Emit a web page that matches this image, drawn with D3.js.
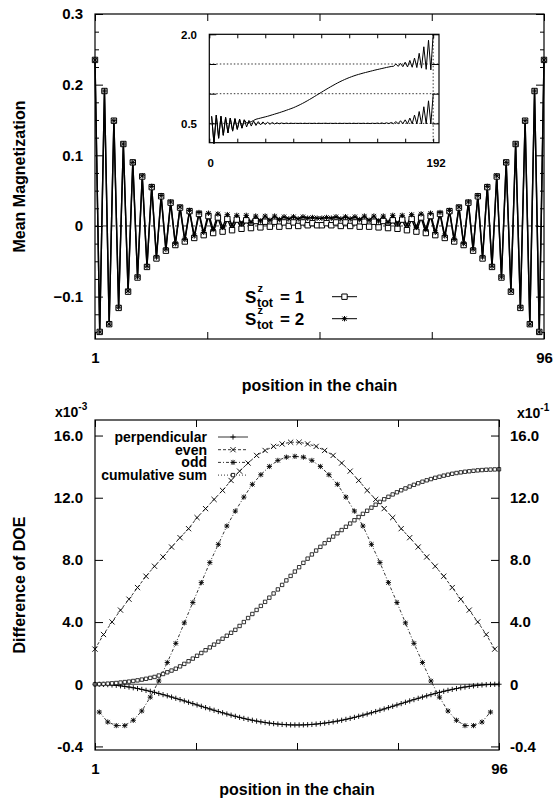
<!DOCTYPE html>
<html><head><meta charset="utf-8">
<script src="https://cdn.jsdelivr.net/npm/d3@7"></script>
<style>
body{margin:0;background:#fff}
text{font-family:"Liberation Sans",Arial,Helvetica,sans-serif;font-weight:bold;fill:#000}
</style>
</head><body>
<svg id="c" width="557" height="801" xmlns="http://www.w3.org/2000/svg"></svg>
<script>
// ---------------- DATA ----------------
// Top panel: mean magnetization per site (1..96)
const topSites = d3.range(1, 97);
const magSz1 = [0.235,-0.150,0.191,-0.139,0.149,-0.116,0.116,-0.093,0.090,-0.073,0.070,-0.058,0.055,-0.046,0.042,-0.035,0.033,-0.027,0.026,-0.022,
0.021,-0.017,0.017,-0.013,0.014,-0.010,0.012,-0.008,0.010,-0.006,0.009,-0.004,0.008,-0.003,0.007,-0.002,0.006,-0.001,0.006,-0.001,
0.005,0.000,0.005,0.000,0.005,0.001,0.004,0.001,
0.001,0.004,0.001,0.005,0.000,0.005,0.000,0.005,
-0.001,0.006,-0.001,0.006,-0.002,0.007,-0.003,0.008,-0.004,0.009,-0.006,0.010,-0.008,0.012,-0.010,0.014,-0.013,0.017,-0.017,0.021,
-0.022,0.026,-0.027,0.033,-0.035,0.042,-0.046,0.055,-0.058,0.070,-0.073,0.090,-0.093,0.116,-0.116,0.149,-0.139,0.191,-0.150,0.235];
const magSz2 = [0.235,-0.150,0.191,-0.139,0.149,-0.115,0.116,-0.092,0.090,-0.072,0.071,-0.057,0.056,-0.044,0.043,-0.033,0.034,-0.025,0.027,-0.019,
0.022,-0.014,0.019,-0.009,0.018,-0.005,0.017,-0.002,0.016,0.001,0.015,0.003,0.015,0.005,0.014,0.007,0.014,0.008,0.014,0.009,
0.013,0.010,0.013,0.010,0.013,0.011,0.012,0.011,
0.011,0.012,0.011,0.013,0.010,0.013,0.010,0.013,
0.009,0.014,0.008,0.014,0.007,0.014,0.005,0.015,0.003,0.015,0.001,0.016,-0.002,0.017,-0.005,0.018,-0.009,0.019,-0.014,0.022,
-0.019,0.027,-0.025,0.034,-0.033,0.043,-0.044,0.056,-0.057,0.071,-0.072,0.090,-0.092,0.116,-0.115,0.149,-0.139,0.191,-0.150,0.235];
const topYTicks = [-0.1, 0, 0.1, 0.2, 0.3];
const topXLabels = ["1", "96"];

// Inset: positions 2..192 (step 2)
const insetSites = d3.range(2, 193, 2);
const insetLower = [0.62,0.16,0.64,0.25,0.62,0.30,0.60,0.34,0.59,0.37,
0.58,0.40,0.57,0.42,0.56,0.44,0.55,0.455,0.54,0.465,
0.53,0.475,0.525,0.48,0.52,0.485,0.515,0.49,0.51,0.493,
0.507,0.495,0.505,0.497,0.503,0.498,0.502,0.498,0.502,0.498,
0.502,0.498,0.502,0.498,0.502,0.498,0.502,0.499,0.501,0.502,
0.498,0.502,0.498,0.502,0.498,0.502,0.498,0.502,0.498,0.502,
0.498,0.502,0.498,0.502,0.498,0.502,0.498,0.502,0.497,0.503,
0.497,0.505,0.497,0.507,0.496,0.51,0.496,0.515,0.495,0.53,
0.495,0.545,0.494,0.56,0.494,0.59,0.493,0.64,0.492,0.70,
0.49,0.78,0.49,0.88,0.49,0.98];
const insetUpper = [0.62,0.16,0.64,0.25,0.62,0.30,0.60,0.34,0.59,0.37,
0.58,0.40,0.57,0.42,0.56,0.505,0.515,0.53,0.55,0.57,
0.58,0.59,0.60,0.61,0.62,0.632,0.644,0.656,0.668,0.68,
0.693,0.706,0.72,0.734,0.748,0.763,0.78,0.798,0.817,0.837,
0.858,0.88,0.903,0.926,0.95,0.974,0.998,1.022,1.046,1.07,
1.093,1.116,1.138,1.16,1.181,1.201,1.22,1.238,1.255,1.271,
1.286,1.30,1.313,1.325,1.336,1.347,1.357,1.367,1.377,1.387,
1.397,1.406,1.415,1.424,1.433,1.442,1.45,1.458,1.462,1.50,
1.46,1.51,1.455,1.53,1.45,1.56,1.445,1.60,1.44,1.68,
1.43,1.79,1.41,1.90,1.40,2.0];
const insetGrid = [0.5, 1.0, 1.5];
const insetYLabels = ["2.0", "0.5"];
const insetXLabels = ["0", "192"];

// Bottom panel: difference of DOE
const bottomSites = d3.range(1, 97);
const perpendicular = [0,-0.003,-0.011,-0.026,-0.046,-0.071,-0.102,-0.138,-0.179,-0.225,
-0.276,-0.332,-0.392,-0.455,-0.523,-0.594,-0.668,-0.744,-0.824,-0.905,
-0.988,-1.073,-1.159,-1.245,-1.332,-1.418,-1.505,-1.590,-1.674,-1.756,
-1.836,-1.914,-1.989,-2.062,-2.131,-2.197,-2.259,-2.317,-2.370,-2.418,
-2.462,-2.501,-2.534,-2.562,-2.585,-2.602,-2.614,-2.619,
-2.619,-2.614,-2.602,-2.585,-2.562,-2.534,-2.501,-2.462,-2.418,-2.370,
-2.317,-2.259,-2.197,-2.131,-2.062,-1.989,-1.914,-1.836,-1.756,-1.674,
-1.590,-1.505,-1.418,-1.332,-1.245,-1.159,-1.073,-0.988,-0.905,-0.824,
-0.744,-0.668,-0.594,-0.523,-0.455,-0.392,-0.332,-0.276,-0.225,-0.179,
-0.138,-0.102,-0.071,-0.046,-0.026,-0.011,-0.003,0];
const evenSites = d3.range(1, 96, 2);
const evenVals = [2.26,3.20,4.01,4.77,5.47,6.22,6.95,7.59,8.19,8.83,9.43,10.01,10.72,11.30,11.89,12.47,13.11,13.71,14.23,14.72,15.04,15.30,15.46,15.57,
15.57,15.46,15.30,15.04,14.72,14.23,13.71,13.11,12.47,11.89,11.30,10.72,10.01,9.43,8.83,8.19,7.59,6.95,6.22,5.47,4.77,4.01,3.20,2.26];
const oddSites = d3.range(2, 95, 2);
const oddVals = [-1.79,-2.43,-2.66,-2.66,-2.32,-1.72,-0.83,0.21,1.40,2.63,3.95,5.26,6.54,7.83,9.00,10.18,11.14,12.04,12.86,13.48,14.01,14.40,14.61,14.66,
14.61,14.40,14.01,13.48,12.86,12.04,11.14,10.18,9.00,7.83,6.54,5.26,3.95,2.63,1.40,0.21,-0.83,-1.72,-2.32,-2.66,-2.66,-2.43,-1.79];
const cumulativeSum = [0.00,0.01,0.02,0.04,0.06,0.08,0.11,0.14,0.17,0.21,
0.25,0.30,0.35,0.41,0.47,0.56,0.66,0.77,0.88,1.00,
1.15,1.31,1.48,1.65,1.83,2.01,2.19,2.37,2.55,2.74,
2.93,3.12,3.31,3.50,3.75,4.00,4.26,4.52,4.78,5.04,
5.30,5.57,5.84,6.10,6.39,6.68,6.97,7.25,7.53,7.81,
8.08,8.35,8.60,8.84,9.07,9.29,9.50,9.71,9.92,10.13,
10.34,10.55,10.76,10.96,11.16,11.36,11.55,11.73,11.90,12.06,
12.21,12.35,12.48,12.60,12.72,12.83,12.93,13.03,13.12,13.20,
13.28,13.35,13.42,13.48,13.54,13.59,13.63,13.67,13.70,13.73,
13.76,13.78,13.80,13.81,13.82,13.83];
const bottomYTicks = [-4, 0, 4, 8, 12, 16];
const bottomYLabels = ["-0.4", "0", "4.0", "8.0", "12.0", "16.0"];
const legendBottom = ["perpendicular", "even", "odd", "cumulative sum"];

// ---------------- DRAW ----------------
const svg = d3.select("#c");
const FONT = "Liberation Sans, Arial, sans-serif";

const sq = r => `M${-r},${-r}H${r}V${r}H${-r}Z`;
const plus = r => `M${-r},0H${r}M0,${-r}V${r}`;
const times = r => `M${-r},${-r}L${r},${r}M${-r},${r}L${r},${-r}`;
const star = r => plus(r) + times(r*0.8);

function frame(g, x0, x1, y0, y1) {
  g.append("rect").attr("x", x0).attr("y", y0).attr("width", x1 - x0).attr("height", y1 - y0)
    .attr("fill", "none").attr("stroke", "#000").attr("stroke-width", 1.2);
}
function cleanAxis(sel) { sel.select(".domain").remove(); sel.selectAll("line").attr("stroke", "#000").attr("stroke-width", 1); }
function styleLabels(sel, size) { sel.selectAll("text").style("font-size", size).style("font-family", FONT).style("font-weight", "bold"); }

// ===== TOP PANEL =====
const xT = d3.scaleLinear().domain([1, 96]).range([95, 544]);
const yT = d3.scaleLinear().domain([-0.16, 0.3]).range([339, 14]);
const gT = svg.append("g");
const xQuarter = [1, 24.75, 48.5, 72.25, 96];

gT.append("line").attr("x1", 95).attr("x2", 544).attr("y1", yT(0)).attr("y2", yT(0))
  .attr("stroke", "#000").attr("stroke-width", 0.8).attr("stroke-dasharray", "4,4");

const minorT = d3.range(-0.15, 0.3001, 0.025).filter(v => !topYTicks.some(t => Math.abs(t - v) < 1e-6));
gT.append("g").attr("transform", "translate(95,0)")
  .call(d3.axisLeft(yT).tickValues(topYTicks).tickSize(-8).tickPadding(12).tickFormat(d => d === 0 ? "0" : d3.format(".1f")(d)))
  .call(cleanAxis).call(styleLabels, "15px");
gT.append("g").attr("transform", "translate(95,0)")
  .call(d3.axisLeft(yT).tickValues(minorT).tickSize(-4).tickFormat("")).call(cleanAxis);
gT.append("g").attr("transform", "translate(544,0)")
  .call(d3.axisRight(yT).tickValues(topYTicks).tickSize(-8).tickFormat("")).call(cleanAxis);
gT.append("g").attr("transform", "translate(544,0)")
  .call(d3.axisRight(yT).tickValues(minorT).tickSize(-4).tickFormat("")).call(cleanAxis);
gT.append("g").attr("transform", "translate(0,339)")
  .call(d3.axisBottom(xT).tickValues(xQuarter).tickSize(-7).tickPadding(13)
    .tickFormat(d => d === 1 ? topXLabels[0] : d === 96 ? topXLabels[1] : ""))
  .call(cleanAxis).call(styleLabels, "15px");
gT.append("g").attr("transform", "translate(0,14)")
  .call(d3.axisTop(xT).tickValues(xQuarter).tickSize(-7).tickFormat("")).call(cleanAxis);

const lineT = (arr) => d3.line().x((d, i) => xT(topSites[i])).y(d => yT(d))(arr);
gT.append("path").attr("d", lineT(magSz1)).attr("fill", "none").attr("stroke", "#000").attr("stroke-width", 1.4);
gT.append("path").attr("d", lineT(magSz2)).attr("fill", "none").attr("stroke", "#000").attr("stroke-width", 1.4);
gT.selectAll(".m1").data(magSz1).join("path")
  .attr("transform", (d, i) => `translate(${xT(topSites[i])},${yT(d)})`)
  .attr("d", sq(2.7)).attr("fill", "#fff").attr("stroke", "#000").attr("stroke-width", 1);
gT.selectAll(".m2").data(magSz2).join("path")
  .attr("transform", (d, i) => `translate(${xT(topSites[i])},${yT(d)})`)
  .attr("d", star(2.7)).attr("fill", "none").attr("stroke", "#000").attr("stroke-width", 1);
frame(gT, 95, 544, 14, 339);

svg.append("text").attr("transform", "translate(25,176.5) rotate(-90)").attr("text-anchor", "middle")
  .style("font-size", "16px").text("Mean Magnetization");
svg.append("text").attr("x", 319.5).attr("y", 391).attr("text-anchor", "middle")
  .style("font-size", "16px").text("position in the chain");

// legend top
const legT = [{y: 303, lab: "= 1", m: sq(2.7), fill: "#fff"}, {y: 325, lab: "= 2", m: star(2.7), fill: "none"}];
legT.forEach(o => {
  svg.append("text").attr("x", 245).attr("y", o.y).style("font-size", "17px").text("S");
  svg.append("text").attr("x", 257.5).attr("y", o.y - 11).style("font-size", "11px").text("z");
  svg.append("text").attr("x", 257).attr("y", o.y + 3.8).style("font-size", "12.5px").text("tot");
  svg.append("text").attr("x", 280).attr("y", o.y).style("font-size", "17px").text(o.lab);
  svg.append("line").attr("x1", 332).attr("x2", 357).attr("y1", o.y - 6.3).attr("y2", o.y - 6.3).attr("stroke", "#000").attr("stroke-width", 1);
  svg.append("path").attr("transform", `translate(344.5,${o.y - 6.3})`).attr("d", o.m).attr("fill", o.fill).attr("stroke", "#000").attr("stroke-width", 1);
});

// ===== INSET =====
const xI = d3.scaleLinear().domain([0, 197]).range([209.3, 439]);
const yI = d3.scaleLinear().domain([0.175, 2.0]).range([142.7, 34.3]);
const gI = svg.append("g");
gI.append("rect").attr("x", 209.3).attr("y", 34.3).attr("width", 439 - 209.3).attr("height", 142.7 - 34.3).attr("fill", "#fff");
insetGrid.forEach(v => {
  gI.append("line").attr("x1", 209.3).attr("x2", 439).attr("y1", yI(v)).attr("y2", yI(v))
    .attr("stroke", "#000").attr("stroke-width", 0.8).attr("stroke-dasharray", "1.5,2");
});
gI.append("line").attr("x1", xI(192)).attr("x2", xI(192)).attr("y1", 34.3).attr("y2", 142.7)
  .attr("stroke", "#000").attr("stroke-width", 0.8).attr("stroke-dasharray", "1.5,2");
const insetXT = d3.range(0, 193, 24);
gI.append("g").attr("transform", "translate(0,34.3)").call(d3.axisTop(xI).tickValues(insetXT).tickSize(-4).tickFormat("")).call(cleanAxis);
gI.append("g").attr("transform", "translate(0,142.7)").call(d3.axisBottom(xI).tickValues(insetXT).tickSize(-4).tickFormat("")).call(cleanAxis);
gI.append("g").attr("transform", "translate(209.3,0)").call(d3.axisLeft(yI).tickValues([0.5, 1, 1.5, 2]).tickSize(-7).tickFormat("")).call(cleanAxis);
gI.append("g").attr("transform", "translate(439,0)").call(d3.axisRight(yI).tickValues([0.5, 1, 1.5, 2]).tickSize(-7).tickFormat("")).call(cleanAxis);
const lineI = d3.line().x((d, i) => xI(insetSites[i])).y(d => yI(d));
gI.append("path").attr("d", lineI(insetLower)).attr("fill", "none").attr("stroke", "#000").attr("stroke-width", 1);
gI.append("path").attr("d", lineI(insetUpper)).attr("fill", "none").attr("stroke", "#000").attr("stroke-width", 1);
frame(gI, 209.3, 439, 34.3, 142.7);
svg.append("text").attr("x", 197).attr("y", yI(2.0) + 4.3).attr("text-anchor", "end").style("font-size", "11.5px").text(insetYLabels[0]);
svg.append("text").attr("x", 197).attr("y", yI(0.5) + 4.3).attr("text-anchor", "end").style("font-size", "11.5px").text(insetYLabels[1]);
svg.append("text").attr("x", xI(0) + 1.5).attr("y", 167).attr("text-anchor", "middle").style("font-size", "11.5px").text(insetXLabels[0]);
svg.append("text").attr("x", xI(192) + 3).attr("y", 167).attr("text-anchor", "middle").style("font-size", "11.5px").text(insetXLabels[1]);

// ===== BOTTOM PANEL =====
const xB = d3.scaleLinear().domain([1, 96]).range([95, 499]);
const yB = d3.scaleLinear().domain([-4.23, 17]).range([750, 420]);
const yR = d3.scaleLinear().domain([-4.23, 17]).range([750, 420]);
const gB = svg.append("g");
gB.append("line").attr("x1", 95).attr("x2", 499).attr("y1", yB(0)).attr("y2", yB(0)).attr("stroke", "#333").attr("stroke-width", 1);
const fmtB = d => bottomYLabels[bottomYTicks.indexOf(d)];
gB.append("g").attr("transform", "translate(95,0)")
  .call(d3.axisLeft(yB).tickValues(bottomYTicks).tickSize(-8).tickPadding(12).tickFormat(fmtB))
  .call(cleanAxis).call(styleLabels, "15px");
gB.append("g").attr("transform", "translate(499,0)")
  .call(d3.axisRight(yR).tickValues(bottomYTicks).tickSize(-8).tickPadding(11).tickFormat(fmtB))
  .call(cleanAxis).call(styleLabels, "15px");
gB.append("g").attr("transform", "translate(0,750)")
  .call(d3.axisBottom(xB).tickValues(xQuarter).tickSize(-7).tickPadding(13)
    .tickFormat(d => d === 1 ? topXLabels[0] : d === 96 ? topXLabels[1] : ""))
  .call(cleanAxis).call(styleLabels, "15px");
gB.append("g").attr("transform", "translate(0,420)")
  .call(d3.axisTop(xB).tickValues(xQuarter).tickSize(-7).tickFormat("")).call(cleanAxis);

const lineB = (xs, vals, ys) => d3.line().x((d, i) => xB(xs[i])).y(d => ys(d))(vals);
gB.append("path").attr("d", lineB(bottomSites, perpendicular, yB)).attr("fill", "none").attr("stroke", "#000").attr("stroke-width", 0.9);
gB.selectAll(".pp").data(perpendicular).join("path")
  .attr("transform", (d, i) => `translate(${xB(bottomSites[i])},${yB(d)})`).attr("d", plus(2.6))
  .attr("fill", "none").attr("stroke", "#000").attr("stroke-width", 0.9);
gB.append("path").attr("d", lineB(evenSites, evenVals, yB)).attr("fill", "none").attr("stroke", "#000").attr("stroke-width", 0.8).attr("stroke-dasharray", "3,2");
gB.selectAll(".ev").data(evenVals).join("path")
  .attr("transform", (d, i) => `translate(${xB(evenSites[i])},${yB(d)})`).attr("d", times(2.6))
  .attr("fill", "none").attr("stroke", "#000").attr("stroke-width", 0.9);
gB.append("path").attr("d", lineB(oddSites, oddVals, yB)).attr("fill", "none").attr("stroke", "#000").attr("stroke-width", 0.8).attr("stroke-dasharray", "3,2,1,2");
gB.selectAll(".od").data(oddVals).join("path")
  .attr("transform", (d, i) => `translate(${xB(oddSites[i])},${yB(d)})`).attr("d", star(2.6))
  .attr("fill", "none").attr("stroke", "#000").attr("stroke-width", 0.9);
gB.append("path").attr("d", lineB(bottomSites, cumulativeSum, yR)).attr("fill", "none").attr("stroke", "#000").attr("stroke-width", 0.8).attr("stroke-dasharray", "1,2");
gB.selectAll(".cs").data(cumulativeSum).join("path")
  .attr("transform", (d, i) => `translate(${xB(bottomSites[i])},${yR(d)})`).attr("d", sq(1.7))
  .attr("fill", "#fff").attr("stroke", "#000").attr("stroke-width", 0.8);
frame(gB, 95, 499, 420, 750);

const legMarks = [plus(2.6), times(2.6), star(2.6), sq(1.7)];
const legDash = [null, "3,2", "3,2,1,2", "1,2"];
const legY = [437, 449.7, 462.4, 475.1];
legendBottom.forEach((lab, i) => {
  svg.append("text").attr("x", 207).attr("y", legY[i] + 5).attr("text-anchor", "end").style("font-size", "14px").text(lab);
  svg.append("line").attr("x1", 218).attr("x2", 248).attr("y1", legY[i]).attr("y2", legY[i])
    .attr("stroke", "#000").attr("stroke-width", 0.8).attr("stroke-dasharray", legDash[i]);
  svg.append("path").attr("transform", `translate(233,${legY[i]})`).attr("d", legMarks[i])
    .attr("fill", i === 3 ? "#fff" : "none").attr("stroke", "#000").attr("stroke-width", 0.9);
});

const m1 = svg.append("text").attr("x", 55).attr("y", 417).style("font-size", "14px");
m1.append("tspan").text("x10");
m1.append("tspan").attr("dy", -7).style("font-size", "10px").text("-3");
const m2 = svg.append("text").attr("x", 517).attr("y", 418).style("font-size", "14px");
m2.append("tspan").text("x10");
m2.append("tspan").attr("dy", -7).style("font-size", "10px").text("-1");

svg.append("text").attr("transform", "translate(25,585) rotate(-90)").attr("text-anchor", "middle")
  .style("font-size", "16px").text("Difference of DOE");
svg.append("text").attr("x", 297).attr("y", 795).attr("text-anchor", "middle")
  .style("font-size", "16px").text("position in the chain");
</script>
</body></html>
